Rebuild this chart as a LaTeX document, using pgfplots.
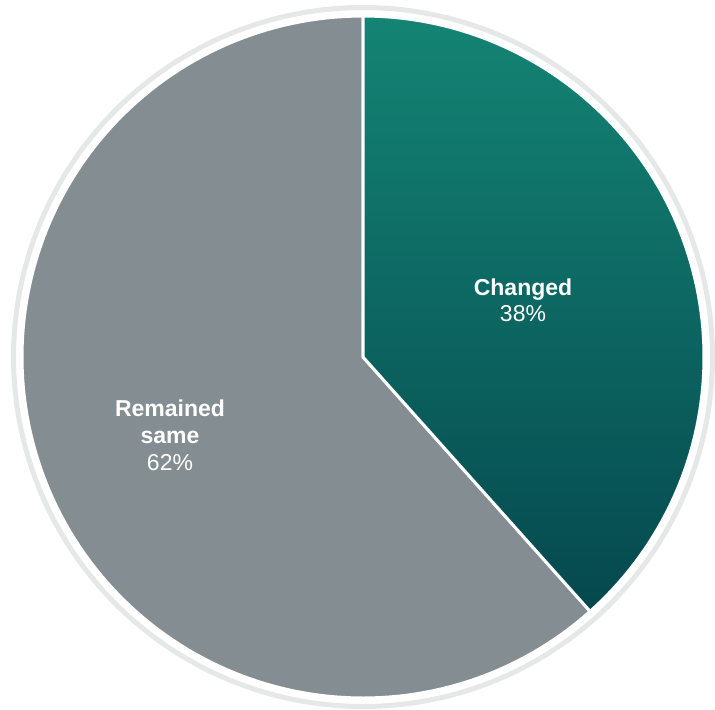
\documentclass[border=0pt]{standalone}
\usepackage{pgfplots}
\pgfplotsset{compat=1.18}
\usepackage{fontspec}
\setmainfont{Liberation Sans}
\definecolor{sgray}{RGB}{132,142,146}
\definecolor{ttop}{RGB}{20,132,116}
\definecolor{tbot}{RGB}{5,72,78}
\definecolor{ring}{RGB}{230,231,231}
\def\vChanged{38.4}
\def\vSame{61.6}
\pgfmathsetmacro\aEnd{90-3.6*\vChanged}
\pgfmathsetmacro\aEndB{90+3.6*\vSame}
\begin{document}
\begin{tikzpicture}
\begin{axis}[
  x=0.5pt, y=0.5pt,
  xmin=0, xmax=715, ymin=0, ymax=709,
  hide axis, clip=false,
  axis line style={draw=none},
]
\addplot[draw=ring, line width=2.5pt, domain=0:360, samples=200, variable=\t, smooth]
  ({363+349.5*cos(\t)},{352+349.5*sin(\t)});
\addplot[draw=white, line width=1.5pt, fill=sgray, domain=90:\aEndB, samples=150, variable=\t]
  ({363+341*cos(\t)},{352+341*sin(\t)}) -- (axis cs:363,352) -- cycle;
\addplot[draw=white, line width=1.5pt, top color=ttop, bottom color=tbot, domain=\aEnd:90, samples=100, variable=\t]
  ({363+341*cos(\t)},{352+341*sin(\t)}) -- (axis cs:363,352) -- cycle;
\node[text=white, align=center, font=\fontsize{11.5}{13}\selectfont] at (axis cs:523,409)
  {\textbf{Changed}\\38\%};
\node[text=white, align=center, font=\fontsize{11.5}{13.5}\selectfont] at (axis cs:170,274)
  {\textbf{Remained}\\\textbf{same}\\62\%};
\coordinate (sw) at (axis cs:0,0);
\coordinate (ne) at (axis cs:715,709);
\end{axis}
\pgfresetboundingbox
\path[use as bounding box] (sw) rectangle (ne);
\end{tikzpicture}
\end{document}
